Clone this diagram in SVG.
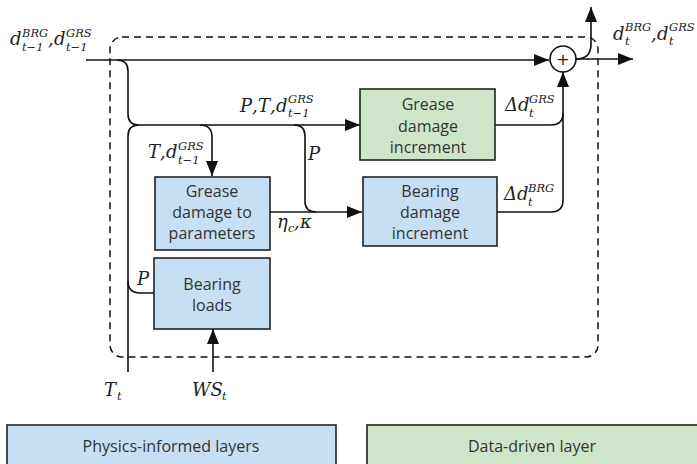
<svg xmlns="http://www.w3.org/2000/svg" width="697" height="464" viewBox="0 0 697 464">
<style>
.box{stroke:#222;stroke-width:1.6}
.phys{fill:#c6dff2}
.data{fill:#cfe5c9}
.lbl{font-family:"Open Sans","Liberation Sans",sans-serif;font-size:16px;fill:#333;text-anchor:middle}
.leg{font-family:"Open Sans","Liberation Sans",sans-serif;font-size:16px;fill:#333;text-anchor:middle}
.m{font-family:"DejaVu Serif","Liberation Serif",serif;font-style:italic;font-size:18px;fill:#222}
.s{font-size:11.5px}
.c{fill:none;stroke:#111;stroke-width:1.6}
.dash{fill:none;stroke:#111;stroke-width:1.5;stroke-dasharray:7 5}
</style>
<defs>
<marker id="ah" markerUnits="userSpaceOnUse" markerWidth="16" markerHeight="12" refX="15" refY="6" orient="auto">
<path d="M0,0 L15,6 L0,12 Z" fill="#111"/>
</marker>
</defs>
<rect width="697" height="464" fill="#fff"/>

<rect id="boundary" class="dash" x="110" y="37" width="488" height="320" rx="12"/>

<g id="connectors">
<path class="c" d="M86,60 H549" marker-end="url(#ah)"/>
<path class="c" d="M117,60 Q128,60 128,71 V114 Q128,125 139,125 H360" marker-end="url(#ah)"/>
<path class="c" d="M128,372 V136 Q128,125 139,125"/>
<path class="c" d="M200,125 Q212,125 212,137 V176" marker-end="url(#ah)"/>
<path class="c" d="M294,125 Q305,125 305,136 V201 Q305,212 316,212"/>
<path class="c" d="M270,212 H362" marker-end="url(#ah)"/>
<path class="c" d="M495,125 H551 Q563,125 563,113"/>
<path class="c" d="M497,212 H551 Q563,212 563,200 V72" marker-end="url(#ah)"/>
<path class="c" d="M576,59 H633" marker-end="url(#ah)"/>
<path class="c" d="M576,59 Q591,59 591,44 V7" marker-end="url(#ah)"/>
<path class="c" d="M154,293 H140 Q128,293 128,281"/>
<path class="c" d="M213,372 V329" marker-end="url(#ah)"/>
</g>

<g id="sum">
<circle cx="563" cy="59" r="13" fill="#fff" stroke="#111" stroke-width="1.6"/>
<text x="563" y="65" font-family="DejaVu Sans,sans-serif" font-size="16" text-anchor="middle" fill="#222">+</text>
</g>

<g id="grease-damage-increment">
<rect class="box data" x="360" y="89" width="135" height="71"/>
<text class="lbl" x="428" y="110">Grease</text>
<text class="lbl" x="428" y="132">damage</text>
<text class="lbl" x="428" y="153">increment</text>
</g>

<g id="grease-damage-to-parameters">
<rect class="box phys" x="155" y="177" width="115" height="73"/>
<text class="lbl" x="212" y="197">Grease</text>
<text class="lbl" x="212" y="218">damage to</text>
<text class="lbl" x="212" y="239">parameters</text>
</g>

<g id="bearing-damage-increment">
<rect class="box phys" x="363" y="177" width="134" height="69"/>
<text class="lbl" x="430" y="197">Bearing</text>
<text class="lbl" x="430" y="218">damage</text>
<text class="lbl" x="430" y="239">increment</text>
</g>

<g id="bearing-loads">
<rect class="box phys" x="154" y="258" width="116" height="71"/>
<text class="lbl" x="212" y="290">Bearing</text>
<text class="lbl" x="212" y="311">loads</text>
</g>

<g id="labels">
<text class="m" x="10" y="45">d</text>
<text class="m s" x="22" y="37">BRG</text>
<text class="m s" x="22" y="51">t−1</text>
<text class="m" x="48" y="45">,</text>
<text class="m" x="54" y="45">d</text>
<text class="m s" x="66" y="37">GRS</text>
<text class="m s" x="66" y="51">t−1</text>

<text class="m" x="240" y="112">P</text>
<text class="m" x="252" y="112">,</text>
<text class="m" x="258" y="112">T</text>
<text class="m" x="270" y="112">,</text>
<text class="m" x="276" y="112">d</text>
<text class="m s" x="288" y="103">GRS</text>
<text class="m s" x="288" y="117">t−1</text>

<text class="m" x="148" y="158">T</text>
<text class="m" x="160" y="158">,</text>
<text class="m" x="166" y="158">d</text>
<text class="m s" x="178" y="150">GRS</text>
<text class="m s" x="178" y="164">t−1</text>

<text class="m" x="308" y="160">P</text>

<text class="m" x="277" y="228">η</text>
<text class="m s" x="288" y="232">c</text>
<text class="m" x="294" y="228">,</text>
<text class="m" x="300" y="228">κ</text>

<text class="m" x="505" y="111">Δd</text>
<text class="m s" x="529" y="103">GRS</text>
<text class="m s" x="529" y="117">t</text>

<text class="m" x="504" y="200">Δd</text>
<text class="m s" x="528" y="192">BRG</text>
<text class="m s" x="528" y="206">t</text>

<text class="m" x="613" y="40">d</text>
<text class="m s" x="625" y="31">BRG</text>
<text class="m s" x="625" y="45">t</text>
<text class="m" x="651" y="40">,</text>
<text class="m" x="657" y="40">d</text>
<text class="m s" x="669" y="31">GRS</text>
<text class="m s" x="669" y="45">t</text>

<text class="m" x="137" y="285">P</text>

<text class="m" x="104" y="396">T</text>
<text class="m s" x="117" y="400">t</text>
<text class="m" x="192" y="396">WS</text>
<text class="m s" x="222" y="400">t</text>
</g>

<g id="legend-physics">
<rect class="box phys" x="7" y="425" width="329" height="45"/>
<text class="leg" x="171" y="452">Physics-informed layers</text>
</g>
<g id="legend-data">
<rect class="box data" x="367" y="425" width="335" height="45"/>
<text class="leg" x="532" y="452">Data-driven layer</text>
</g>
</svg>
